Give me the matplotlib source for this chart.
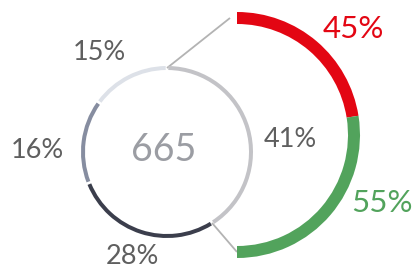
import numpy as np
import matplotlib
matplotlib.use("Agg")
import matplotlib.pyplot as plt
from matplotlib.patches import Wedge

plt.rcParams['font.family'] = ['Lato', 'DejaVu Sans']

# data
ring_labels = ["41%", "28%", "16%", "15%"]
ring_values = [41, 28, 16, 15]
ring_colors = ["#c3c3c7", "#3b3e4c", "#868da0", "#dde1e8"]
total = "665"

split_labels = ["45%", "55%"]
split_values = [45, 55]
split_colors = ["#e30613", "#52a35c"]

W, H = 414, 269
fig = plt.figure(figsize=(W / 100, H / 100), dpi=100)
ax = fig.add_axes([0, 0, 1, 1])
ax.set_xlim(0, W)
ax.set_ylim(0, H)
ax.set_aspect("equal")
ax.axis("off")

# small ring, clockwise from top
cx, cy, r, rw = 167, 117, 86, 4
gap = 0.9
start = 90.0
ring_angles = []
for val, col in zip(ring_values, ring_colors):
    sweep = val / sum(ring_values) * 360
    end = start - sweep
    ax.add_patch(Wedge((cx, cy), r, end + gap, start - gap, width=rw,
                       facecolor=col, edgecolor="none", zorder=3))
    ring_angles.append((start, end))
    start = end

# half ring on the right, clockwise from top
hx, hy, hr, hw = 237, 134, 123, 12
start = 90.0
for val, col in zip(split_values, split_colors):
    sweep = val / sum(split_values) * 180
    end = start - sweep
    ax.add_patch(Wedge((hx, hy), hr, end, start, width=hw,
                       facecolor=col, edgecolor="none", zorder=3))
    start = end

# connectors from the 41% segment to the half ring
a0, a1 = np.radians(ring_angles[0][0]), np.radians(ring_angles[0][1])
rm = r - rw / 2
ax.plot([cx + rm * np.cos(a0), hx - 7], [cy + rm * np.sin(a0), hy + hr - 6],
        color="#b3b3b3", lw=1.3, zorder=2, solid_capstyle="butt")
ax.plot([cx + rm * np.cos(a1), hx], [cy + rm * np.sin(a1), hy - hr + 6],
        color="#b3b3b3", lw=1.3, zorder=2, solid_capstyle="butt")

# labels
ring_pos = [(290, 130), (132, 12), (37, 119), (99, 217)]
for lab, (x, y) in zip(ring_labels, ring_pos):
    ax.text(x, y, lab, ha="center", va="center", fontsize=19.5,
            color="#5f5f5f")

split_pos = [(353, 240), (382, 66)]
for lab, (x, y), col in zip(split_labels, split_pos, split_colors):
    ax.text(x, y, lab, ha="center", va="center", fontsize=22.5, color=col)

ax.text(164, 119, total, ha="center", va="center", fontsize=27,
        color="#9b9da3")

fig.savefig("out.png", dpi=100)
